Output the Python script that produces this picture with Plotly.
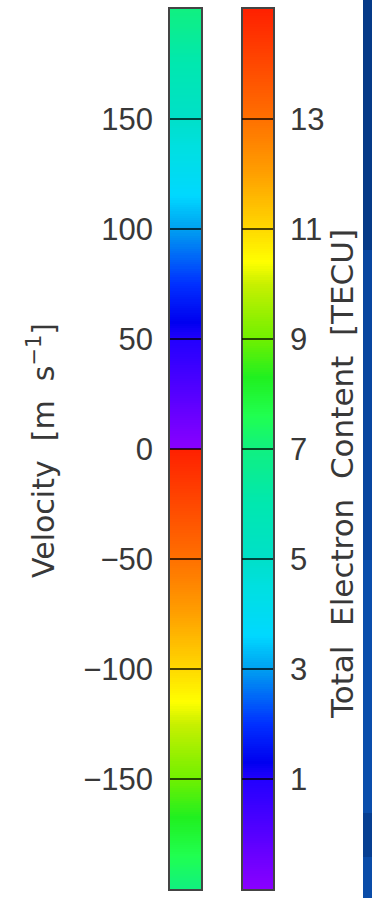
import numpy as np
import plotly.graph_objects as go

# ---- data ----
velocity_ticks = [-150, -100, -50, 0, 50, 100, 150]
velocity_range = [-200, 200]
tec_ticks = [1, 3, 5, 7, 9, 11, 13]
tec_range = [-1, 15]
velocity_title = "Velocity  [m  s<sup>−1</sup>]"
tec_title = "Total  Electron  Content  [TECU]"

# colour stops of the TEC colour bar (TECU value, colour)
tec_stop_values = [-1, 0, 1, 1.3, 2, 3, 3.6, 4.5, 5, 6, 7, 7.6, 8.3, 9, 10, 10.4, 11, 12, 13, 14, 15]
tec_stop_colors = ["#8a00ff", "#5500ff", "#2200ff", "#0000f0", "#0030ff", "#00a0f0", "#00d8ff",
                   "#00e0e0", "#00e0c8", "#00e8b0", "#10f080", "#20ff50", "#20f020", "#70f000",
                   "#c8f000", "#ffff00", "#ffd800", "#ffa000", "#ff7000", "#ff4800", "#ff2000"]

W, H = 372, 898

# ---- colour scales ----
t0, t1 = tec_range
tec_scale = [[(v - t0) / (t1 - t0), c] for v, c in zip(tec_stop_values, tec_stop_colors)]
# velocity bar uses the same palette shifted by half: negative half = upper TEC half
mid = (t0 + t1) / 2
vel_scale = []
for v, c in zip(tec_stop_values, tec_stop_colors):
    if v >= mid:
        f = (v - mid) / (t1 - t0)
        vel_scale.append([min(f, 0.4999), c])
for v, c in zip(tec_stop_values, tec_stop_colors):
    if v <= mid:
        f = 0.5 + (v - t0) / (t1 - t0)
        vel_scale.append([f, c])
vel_scale.sort(key=lambda s: s[0])

# ---- gradient samples (rendering resolution of the bars) ----
vel_edges = np.linspace(velocity_range[0], velocity_range[1], 401)
vel_mid = (vel_edges[:-1] + vel_edges[1:]) / 2
tec_edges = np.linspace(tec_range[0], tec_range[1], 401)
tec_mid = (tec_edges[:-1] + tec_edges[1:]) / 2

fig = go.Figure()
fig.add_trace(go.Heatmap(x=[0, 1], y=vel_edges, z=vel_mid.reshape(-1, 1),
                         colorscale=vel_scale, zmin=velocity_range[0], zmax=velocity_range[1],
                         showscale=False, hoverinfo="skip", xaxis="x", yaxis="y"))
fig.add_trace(go.Heatmap(x=[0, 1], y=tec_edges, z=tec_mid.reshape(-1, 1),
                         colorscale=tec_scale, zmin=tec_range[0], zmax=tec_range[1],
                         showscale=False, hoverinfo="skip", xaxis="x2", yaxis="y2"))

tick_font = dict(family="Liberation Sans, Arial, sans-serif", size=31, color="#383838")
line_col = "rgba(35,35,35,0.85)"
tick_col = "rgba(0,0,0,0.7)"
ydom = [1 - 889 / H, 1 - 9 / H]

xcommon = dict(range=[0, 1], showticklabels=False, ticks="", showgrid=False, zeroline=False,
               showline=True, mirror=True, linecolor=line_col, linewidth=1.5, fixedrange=True)
ycommon = dict(showgrid=False, zeroline=False, showline=True, mirror=True, linecolor=line_col,
               linewidth=1.5, ticks="inside", ticklen=31, tickwidth=1.8, tickcolor=tick_col,
               tickfont=tick_font, ticklabelstandoff=9, fixedrange=True)

# decorative slide-edge strip on the right (pixel rows from top, colour)
strip_rows = [(0, 250, "#053a88"), (250, 560, "#0846a0"), (560, 813, "#0a4eac"),
              (813, 857, "#073f92"), (857, 898, "#0a4ca8")]
shapes = [dict(type="rect", xref="paper", yref="paper", x0=363 / W, x1=1.05,
               y0=1 - b / H, y1=1 - a / H, fillcolor=c, line=dict(width=0), layer="above")
          for a, b, c in strip_rows]

fig.update_layout(
    width=W, height=H,
    margin=dict(l=0, r=0, t=0, b=0),
    paper_bgcolor="white", plot_bgcolor="white",
    showlegend=False,
    xaxis=dict(domain=[170 / W, 201 / W], anchor="y", **xcommon),
    yaxis=dict(domain=ydom, anchor="x", side="left", range=velocity_range,
               tickvals=velocity_ticks, **ycommon),
    xaxis2=dict(domain=[243 / W, 273 / W], anchor="y2", **xcommon),
    yaxis2=dict(domain=ydom, anchor="x2", side="right", range=tec_range,
                tickvals=tec_ticks, **ycommon),
    annotations=[
        dict(text=velocity_title, x=42 / W, y=1 - 451 / H, xref="paper", yref="paper",
             textangle=-90, showarrow=False, xanchor="center", yanchor="middle",
             font=dict(family="DejaVu Sans, sans-serif", size=30, color="#383838")),
        dict(text=tec_title, x=342 / W, y=1 - 474 / H, xref="paper", yref="paper",
             textangle=-90, showarrow=False, xanchor="center", yanchor="middle",
             font=dict(family="DejaVu Sans, sans-serif", size=31, color="#383838")),
    ],
    shapes=shapes,
)

fig.write_html("out.html", config={"displayModeBar": False},
               post_script="document.body.style.margin='0';document.body.style.overflow='hidden';")
